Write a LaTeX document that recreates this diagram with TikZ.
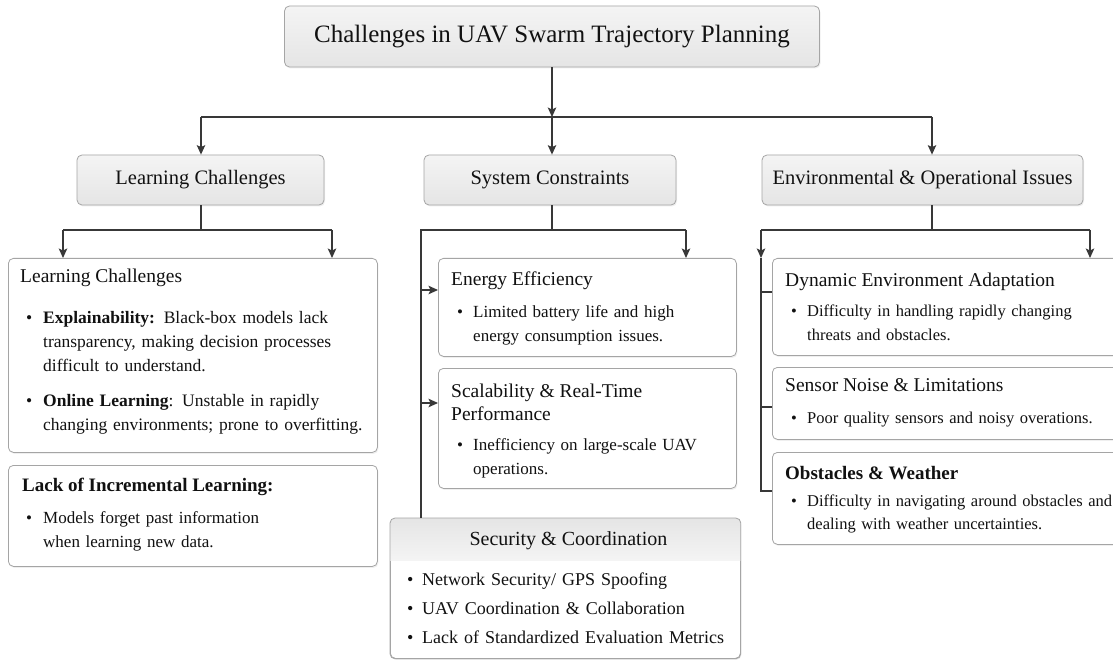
\documentclass[tikz,border=0pt]{standalone}
\usepackage{fontspec}
\setmainfont{Liberation Serif}
\usetikzlibrary{arrows.meta,shadows,calc}

\definecolor{ink}{HTML}{111111}
\definecolor{wirec}{HTML}{383838}
\definecolor{rim}{HTML}{A5A5A5}
\definecolor{headA}{HTML}{F4F4F4}
\definecolor{headB}{HTML}{E5E5E5}

% bullet paragraph with hanging indent
\newcommand{\bitem}[2][16pt]{\hangindent=#1\hangafter=1\noindent\makebox[#1][l]{\textbullet}#2\par}

\tikzset{
  wire/.style={draw=wirec, line width=1.2pt},
  arr/.style={wire, -{Stealth[length=9.5pt,width=8.5pt,inset=2pt]}},
  softshadow/.style={drop shadow={opacity=0.12, shadow xshift=1pt, shadow yshift=-1.5pt}},
  headbox/.style={draw=rim, line width=0.8pt, rounded corners=5pt, top color=headA,
    bottom color=headB, text=ink, inner sep=0pt, softshadow},
  detbox/.style={draw=rim, line width=0.8pt, rounded corners=5pt, fill=white,
    inner sep=0pt, anchor=north west, softshadow},
  ttl/.style={inner sep=0pt, text=ink, anchor=west, font=\fontsize{19.5}{23}\selectfont},
  body/.style={inner sep=0pt, text=ink, anchor=north west, align=left,
    font=\fontsize{17}{24}\selectfont},
}

\begin{document}
\begin{tikzpicture}[x=1pt, y=-1pt]
\useasboundingbox[fill=white] (0,0) rectangle (1113,660);

% ---------- top level ----------
\node[headbox, minimum width=535pt, minimum height=61pt,
      font=\fontsize{25}{30}\selectfont] (root) at (552,36.5)
      {Challenges in UAV Swarm Trajectory Planning};

\node[headbox, minimum width=247pt, minimum height=50pt,
      font=\fontsize{20.5}{24}\selectfont] (learn) at (200.5,180) {Learning Challenges};
\node[headbox, minimum width=252pt, minimum height=50pt,
      font=\fontsize{20.5}{24}\selectfont] (sys) at (550,180) {System Constraints};
\node[headbox, minimum width=321pt, minimum height=50pt,
      font=\fontsize{20.5}{24}\selectfont] (env) at (922.5,180) {Environmental \& Operational Issues};

\coordinate (busL) at (201,117);
\coordinate (busM) at (552,117);
\coordinate (busR) at (932,117);
\draw[arr] (root.south) -- (busM);
\draw[wire] (busL) -- (busR);
\draw[arr] (busL) -- (busL |- learn.north);
\draw[arr] (busM) -- (busM |- sys.north);
\draw[arr] (busR) -- (busR |- env.north);

% ---------- learning column ----------
\node[detbox, minimum width=369pt, minimum height=194pt] (lc) at (8,258) {};
\node[ttl] (lcT) at (20,278) {Learning Challenges};
\node[body, text width=360pt, font=\fontsize{17.5}{24}\selectfont] (lcB) at (26,311) {%
  \bitem[17pt]{\textbf{Explainability:} Black-box models lack\newline
    transparency, making decision processes\newline difficult to understand.}\vspace{11pt}%
  \bitem[17pt]{\textbf{Online Learning}: Unstable in rapidly\newline
    changing environments; prone to overfitting.}};

\node[detbox, minimum width=369pt, minimum height=101pt] (inc) at (8,465) {};
\node[ttl, font=\bfseries\fontsize{19}{23}\selectfont] (incT) at (22,487) {Lack of Incremental Learning:};
\node[body, text width=340pt] (incB) at (26,511) {%
  \bitem[17pt]{Models forget past information\newline when learning new data.}};

\coordinate (lcJ) at (201,230);
\coordinate (lcA) at (63,230);
\coordinate (lcZ) at (332,230);
\draw[wire] (lcJ |- learn.south) -- (lcJ);
\draw[wire] (lcA) -- (lcZ);
\draw[arr] (lcA) -- (lcA |- lc.north);
\draw[arr] (lcZ) -- (lcZ |- lc.north);

% ---------- system column ----------
\node[detbox, minimum width=298pt, minimum height=98pt] (energy) at (438,258) {};
\node[ttl] (energyT) at (451,281) {Energy Efficiency};
\node[body, text width=280pt] (energyB) at (457,305) {%
  \bitem{Limited battery life and high\newline energy consumption issues.}};

\node[detbox, minimum width=298pt, minimum height=120pt] (scale) at (438,368) {};
\node[ttl, align=left] (scaleT) at (451,402.5) {Scalability \& Real-Time\\Performance};
\node[body, text width=280pt] (scaleB) at (457,438) {%
  \bitem{Inefficiency on large-scale UAV\newline operations.}};

\node[detbox, minimum width=350pt, minimum height=140pt] (secu) at (390,518) {};
\begin{scope}
  \clip[rounded corners=5pt] (secu.south west) rectangle (secu.north east);
  \shade[top color=headB, bottom color=headA] (secu.north west) rectangle ($(secu.north east)+(0,42)$);
\end{scope}
\draw[draw=rim, line width=0.8pt, rounded corners=5pt] (secu.south west) rectangle (secu.north east);
\node[inner sep=0pt, text=ink, font=\fontsize{20}{24}\selectfont] (secuT) at ($(secu.north)+(3,23)$) {Security \& Coordination};
\node[body, text width=340pt, font=\fontsize{18}{29}\selectfont] (secuB) at (407,573) {%
  \bitem[15pt]{Network Security/ GPS Spoofing}%
  \bitem[15pt]{UAV Coordination \& Collaboration}%
  \bitem[15pt]{Lack of Standardized Evaluation Metrics}};

\coordinate (sysJ) at (552,230);
\coordinate (sysA) at (421,230);
\coordinate (sysZ) at (686,230);
\draw[wire] (sysJ |- sys.south) -- (sysJ);
\draw[wire] (sysA |- secu.north) -- (sysA) -- (sysZ);
\draw[arr] (sysZ) -- (sysZ |- energy.north);
\draw[arr] (sysA |- 0,290) -- (energy.west |- 0,290);
\draw[arr] (sysA |- 0,403) -- (scale.west |- 0,403);

% ---------- environment column ----------
\node[detbox, minimum width=346pt, minimum height=97pt] (dyn) at (772,258) {};
\node[ttl] (dynT) at (785,282) {Dynamic Environment Adaptation};
\node[body, text width=330pt, font=\fontsize{16.5}{24}\selectfont] (dynB) at (791,305) {%
  \bitem{Difficulty in handling rapidly changing\newline threats and obstacles.}};

\node[detbox, minimum width=346pt, minimum height=72pt] (sens) at (772,367) {};
\node[ttl] (sensT) at (785,385) {Sensor Noise \& Limitations};
\node[body, text width=330pt, font=\fontsize{16.5}{24}\selectfont] (sensB) at (791,412) {%
  \bitem{Poor quality sensors and noisy overations.}};

\node[detbox, minimum width=346pt, minimum height=92pt] (obst) at (772,452) {};
\node[ttl, font=\bfseries\fontsize{19}{23}\selectfont] (obstT) at (785,473) {Obstacles \& Weather};
\node[body, text width=330pt, font=\fontsize{16.5}{23}\selectfont] (obstB) at (791,495) {%
  \bitem{Difficulty in navigating around obstacles and\newline dealing with weather uncertainties.}};

\coordinate (envJ) at (932,230);
\coordinate (envA) at (761,230);
\coordinate (envZ) at (1090,230);
\coordinate (envE) at (761,491);
\draw[wire] (envJ |- env.south) -- (envJ);
\draw[wire] (envA) -- (envZ);
\draw[arr] (envZ) -- (envZ |- dyn.north);
\draw[arr] (envA) -- (envA |- dyn.north);
\draw[wire] (envA |- dyn.north) -- (envE) -- (envE -| obst.west);
\draw[wire] (envA |- 0,292) -- (dyn.west |- 0,292);
\draw[wire] (envA |- 0,407) -- (sens.west |- 0,407);
\end{tikzpicture}
\end{document}
